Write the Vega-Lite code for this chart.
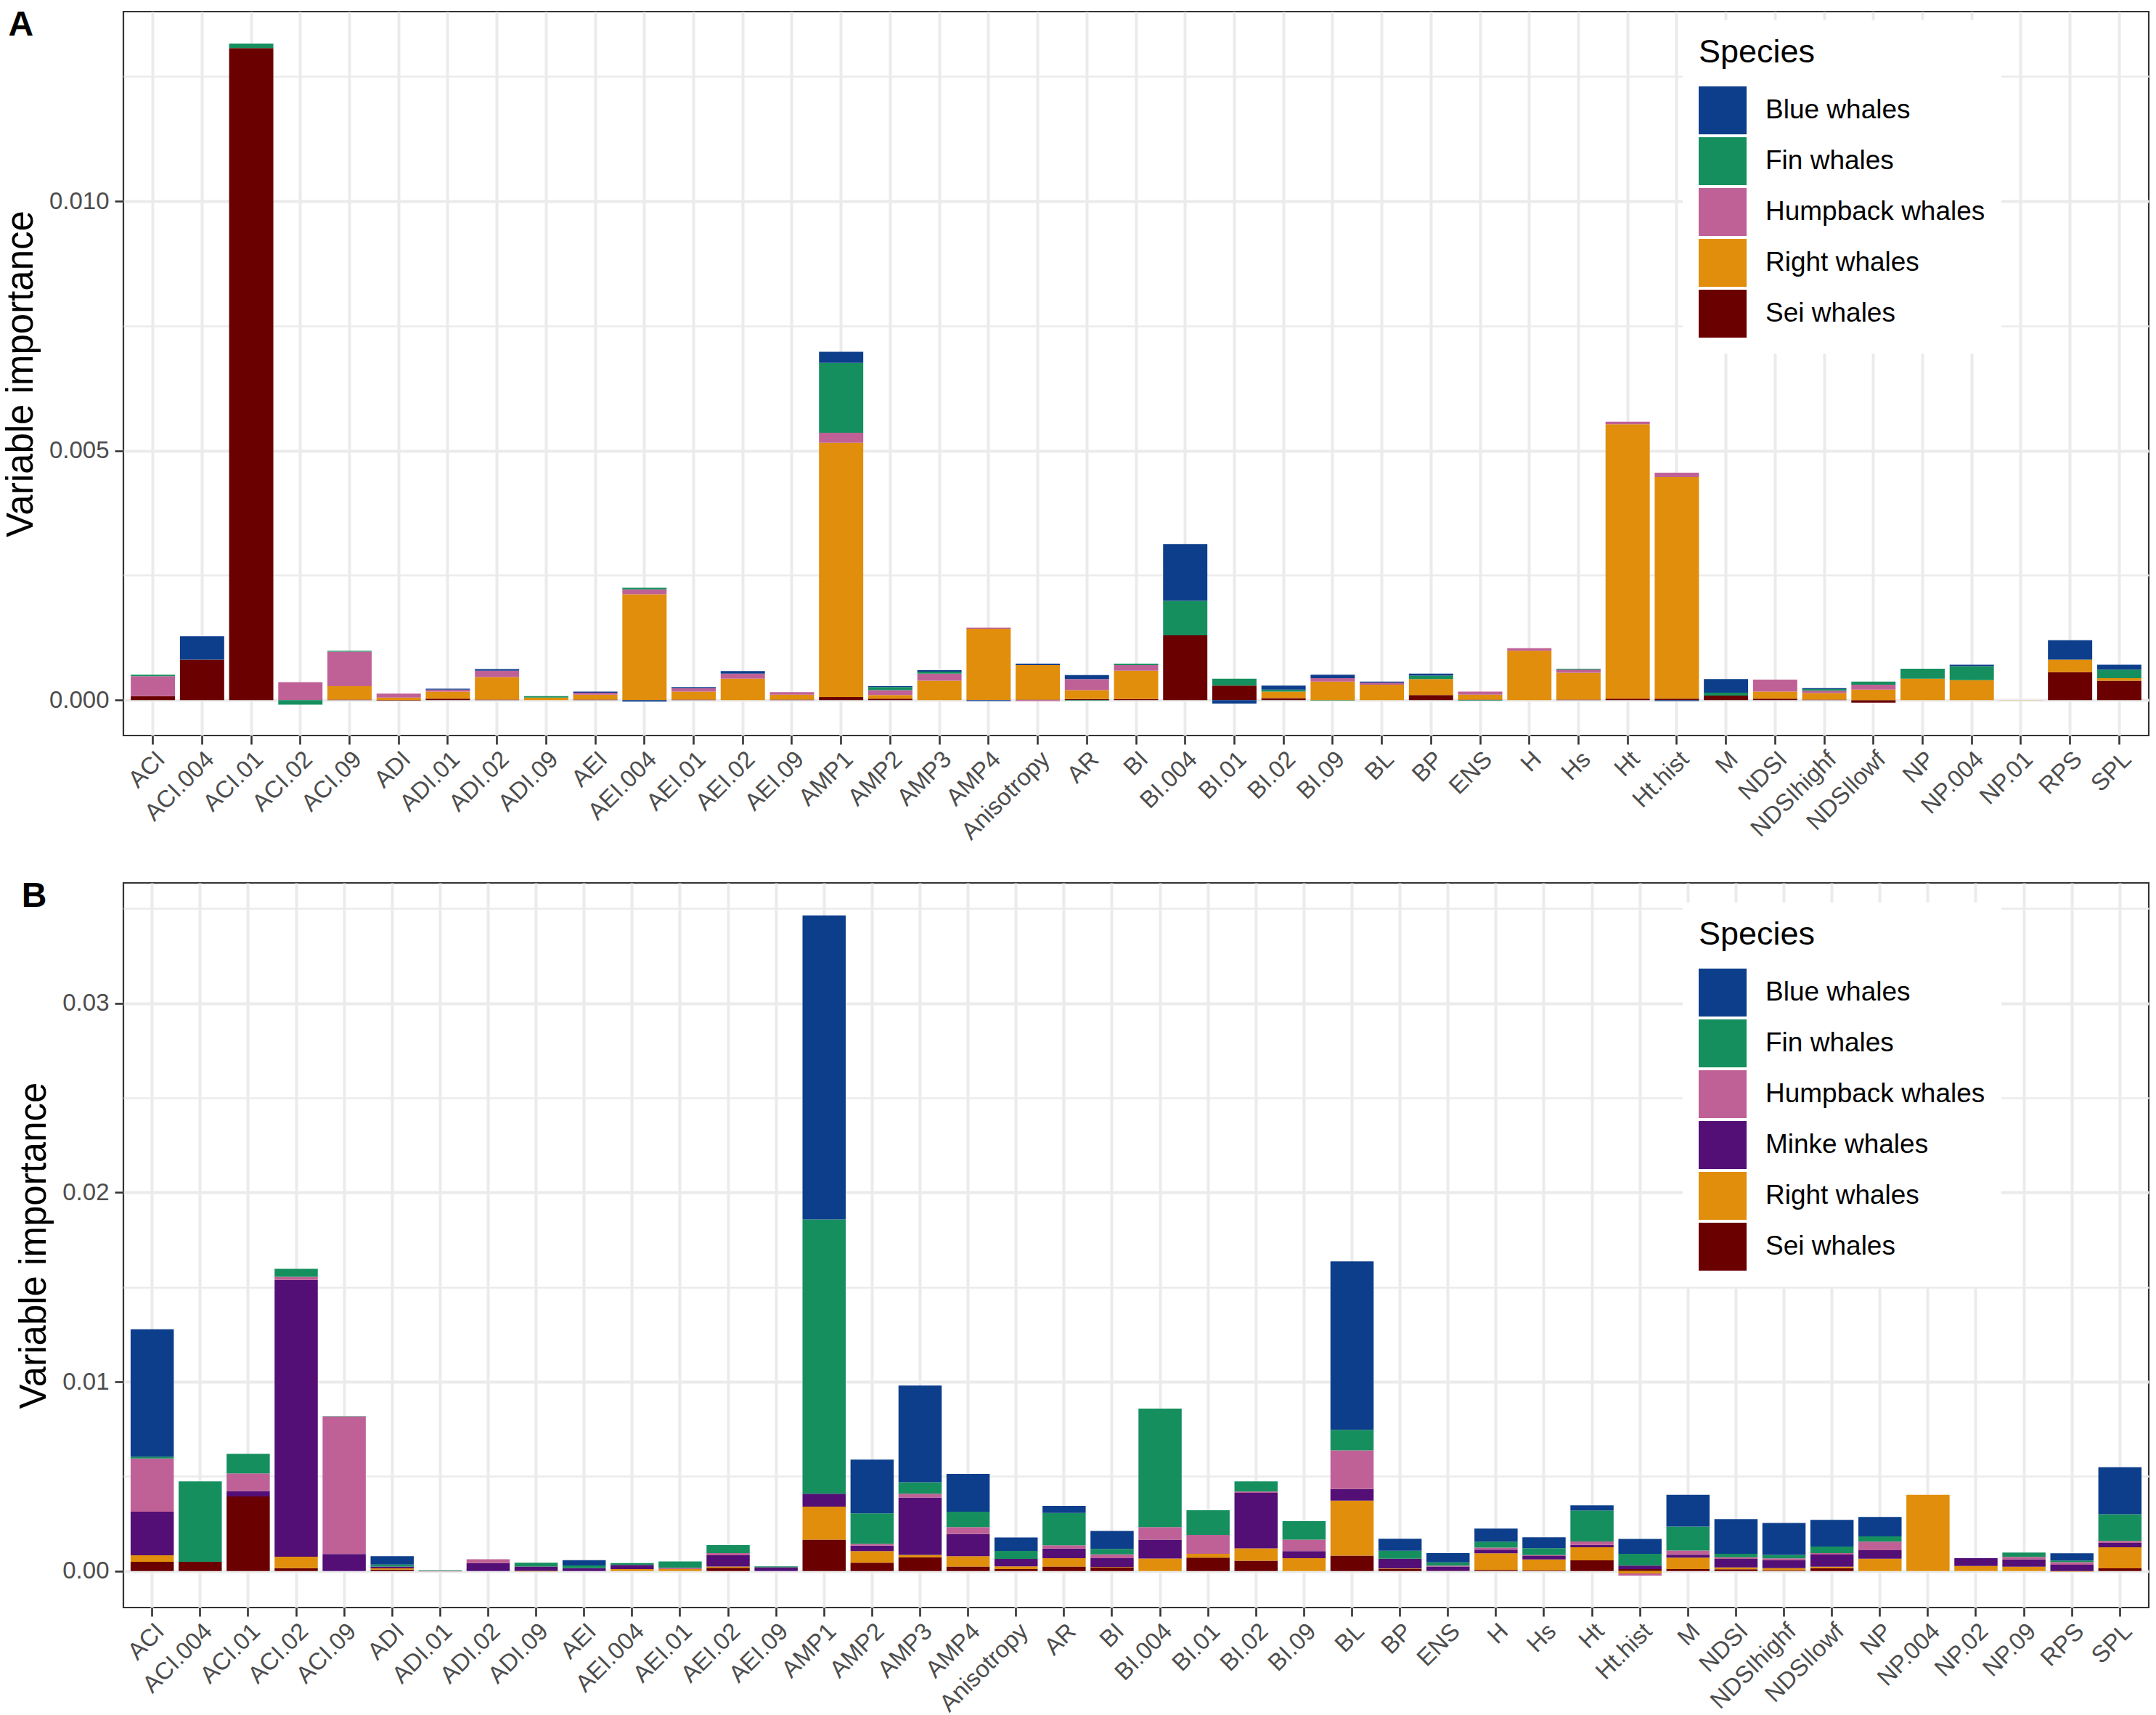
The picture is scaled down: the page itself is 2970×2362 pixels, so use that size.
{
  "$schema": "https://vega.github.io/schema/vega-lite/v6.json",
  "background": "white",
  "padding": {"left": 2, "top": 9, "right": 9, "bottom": 5},
  "spacing": 203,
  "bounds": "flush",
  "config": {
    "view": {"stroke": "#333333", "strokeWidth": 2.2},
    "font": "Liberation Sans",
    "axis": {"labelFont": "Liberation Sans", "titleFont": "Liberation Sans", "labelFontSize": 33, "labelColor": "#4D4D4D", "tickColor": "#333333", "tickWidth": 2.6, "tickSize": 12, "domain": false, "gridColor": "#EBEBEB", "gridWidth": 4, "titleFontWeight": "normal", "titleColor": "#000000", "labelOverlap": false},
    "legend": {"titleFont": "Liberation Sans", "labelFont": "Liberation Sans", "titleFontSize": 45, "titleFontWeight": "normal", "titleColor": "#000000", "labelFontSize": 37, "labelLimit": 0, "labelColor": "#000000", "symbolType": "square", "symbolSize": 4356, "symbolStrokeWidth": 0, "symbolOpacity": 1, "labelOffset": 26, "padding": 22, "rowPadding": 4, "titlePadding": 24, "fillColor": "white", "strokeColor": null},
    "title": {"font": "Liberation Sans", "fontSize": 48, "fontWeight": "bold", "color": "#000000", "anchor": "start", "frame": "bounds", "baseline": "alphabetic", "offset": -43, "dx": 8}
  },
  "resolve": {"scale": {"color": "independent", "x": "independent", "y": "independent"}, "legend": {"color": "independent"}},
  "vconcat": [
    {
      "title": {"text": "A"},
      "width": 2790,
      "height": 997,
      "data": {"values": [
        {"var":"ACI","sp":"Sei whales","v":0.00008},{"var":"ACI","sp":"Humpback whales","v":0.0004},{"var":"ACI","sp":"Fin whales","v":0.00003},
        {"var":"ACI.004","sp":"Sei whales","v":0.00081},{"var":"ACI.004","sp":"Blue whales","v":0.00047},
        {"var":"ACI.01","sp":"Sei whales","v":0.01307},{"var":"ACI.01","sp":"Fin whales","v":0.00009},
        {"var":"ACI.02","sp":"Humpback whales","v":0.00036},{"var":"ACI.02","sp":"Fin whales","v":-0.00009},
        {"var":"ACI.09","sp":"Sei whales","v":0.00001},{"var":"ACI.09","sp":"Right whales","v":0.00027},{"var":"ACI.09","sp":"Humpback whales","v":0.00069},{"var":"ACI.09","sp":"Fin whales","v":0.00002},
        {"var":"ADI","sp":"Sei whales","v":-0.00001},{"var":"ADI","sp":"Right whales","v":0.00005},{"var":"ADI","sp":"Humpback whales","v":0.00008},
        {"var":"ADI.01","sp":"Sei whales","v":0.00003},{"var":"ADI.01","sp":"Right whales","v":0.00014},{"var":"ADI.01","sp":"Humpback whales","v":0.00004},{"var":"ADI.01","sp":"Blue whales","v":0.00002},
        {"var":"ADI.02","sp":"Sei whales","v":0.00001},{"var":"ADI.02","sp":"Right whales","v":0.00045},{"var":"ADI.02","sp":"Humpback whales","v":0.00013},{"var":"ADI.02","sp":"Blue whales","v":0.00003},
        {"var":"ADI.09","sp":"Right whales","v":0.00005},{"var":"ADI.09","sp":"Fin whales","v":0.00003},
        {"var":"AEI","sp":"Sei whales","v":0.00001},{"var":"AEI","sp":"Right whales","v":0.0001},{"var":"AEI","sp":"Humpback whales","v":0.00004},{"var":"AEI","sp":"Blue whales","v":0.00002},
        {"var":"AEI.004","sp":"Right whales","v":0.00212},{"var":"AEI.004","sp":"Humpback whales","v":0.0001},{"var":"AEI.004","sp":"Fin whales","v":0.00003},{"var":"AEI.004","sp":"Blue whales","v":-0.00003},
        {"var":"AEI.01","sp":"Sei whales","v":0.00001},{"var":"AEI.01","sp":"Right whales","v":0.00016},{"var":"AEI.01","sp":"Humpback whales","v":0.00007},{"var":"AEI.01","sp":"Blue whales","v":0.00002},
        {"var":"AEI.02","sp":"Right whales","v":0.00043},{"var":"AEI.02","sp":"Humpback whales","v":0.0001},{"var":"AEI.02","sp":"Blue whales","v":0.00005},
        {"var":"AEI.09","sp":"Sei whales","v":0.00001},{"var":"AEI.09","sp":"Right whales","v":0.0001},{"var":"AEI.09","sp":"Humpback whales","v":0.00005},
        {"var":"AMP1","sp":"Sei whales","v":0.00006},{"var":"AMP1","sp":"Right whales","v":0.0051},{"var":"AMP1","sp":"Humpback whales","v":0.0002},{"var":"AMP1","sp":"Fin whales","v":0.0014},{"var":"AMP1","sp":"Blue whales","v":0.00022},
        {"var":"AMP2","sp":"Sei whales","v":0.00003},{"var":"AMP2","sp":"Right whales","v":0.00007},{"var":"AMP2","sp":"Humpback whales","v":0.0001},{"var":"AMP2","sp":"Fin whales","v":0.00006},{"var":"AMP2","sp":"Blue whales","v":0.00002},
        {"var":"AMP3","sp":"Right whales","v":0.00039},{"var":"AMP3","sp":"Humpback whales","v":0.00014},{"var":"AMP3","sp":"Fin whales","v":0.00004},{"var":"AMP3","sp":"Blue whales","v":0.00003},
        {"var":"AMP4","sp":"Right whales","v":0.00143},{"var":"AMP4","sp":"Humpback whales","v":0.00002},{"var":"AMP4","sp":"Blue whales","v":-0.00002},
        {"var":"Anisotropy","sp":"Sei whales","v":0.00001},{"var":"Anisotropy","sp":"Right whales","v":0.00069},{"var":"Anisotropy","sp":"Blue whales","v":0.00003},{"var":"Anisotropy","sp":"Humpback whales","v":-0.00002},
        {"var":"AR","sp":"Sei whales","v":0.00002},{"var":"AR","sp":"Right whales","v":0.00018},{"var":"AR","sp":"Humpback whales","v":0.00022},{"var":"AR","sp":"Blue whales","v":0.00008},{"var":"AR","sp":"Fin whales","v":-0.00001},
        {"var":"BI","sp":"Sei whales","v":0.00002},{"var":"BI","sp":"Right whales","v":0.00057},{"var":"BI","sp":"Humpback whales","v":0.00011},{"var":"BI","sp":"Fin whales","v":0.00003},
        {"var":"BI.004","sp":"Sei whales","v":0.0013},{"var":"BI.004","sp":"Fin whales","v":0.00069},{"var":"BI.004","sp":"Blue whales","v":0.00114},
        {"var":"BI.01","sp":"Sei whales","v":0.00029},{"var":"BI.01","sp":"Fin whales","v":0.00014},{"var":"BI.01","sp":"Blue whales","v":-0.00007},
        {"var":"BI.02","sp":"Sei whales","v":0.00004},{"var":"BI.02","sp":"Right whales","v":0.00013},{"var":"BI.02","sp":"Fin whales","v":0.00004},{"var":"BI.02","sp":"Blue whales","v":0.00008},
        {"var":"BI.09","sp":"Fin whales","v":-0.00001},{"var":"BI.09","sp":"Right whales","v":0.00037},{"var":"BI.09","sp":"Humpback whales","v":0.00007},{"var":"BI.09","sp":"Blue whales","v":0.00007},
        {"var":"BL","sp":"Right whales","v":0.00031},{"var":"BL","sp":"Humpback whales","v":0.00004},{"var":"BL","sp":"Blue whales","v":0.00002},
        {"var":"BP","sp":"Sei whales","v":0.0001},{"var":"BP","sp":"Right whales","v":0.00032},{"var":"BP","sp":"Fin whales","v":0.00007},{"var":"BP","sp":"Blue whales","v":0.00004},
        {"var":"ENS","sp":"Sei whales","v":0.00001},{"var":"ENS","sp":"Right whales","v":0.0001},{"var":"ENS","sp":"Humpback whales","v":0.00006},{"var":"ENS","sp":"Fin whales","v":-0.00001},
        {"var":"H","sp":"Right whales","v":0.00099},{"var":"H","sp":"Humpback whales","v":0.00005},
        {"var":"Hs","sp":"Sei whales","v":0.00001},{"var":"Hs","sp":"Right whales","v":0.00054},{"var":"Hs","sp":"Humpback whales","v":0.00006},{"var":"Hs","sp":"Fin whales","v":0.00002},
        {"var":"Ht","sp":"Sei whales","v":0.00003},{"var":"Ht","sp":"Right whales","v":0.0055},{"var":"Ht","sp":"Humpback whales","v":0.00005},
        {"var":"Ht.hist","sp":"Sei whales","v":0.00003},{"var":"Ht.hist","sp":"Right whales","v":0.00444},{"var":"Ht.hist","sp":"Humpback whales","v":0.00009},{"var":"Ht.hist","sp":"Blue whales","v":-0.00002},
        {"var":"M","sp":"Sei whales","v":0.00009},{"var":"M","sp":"Fin whales","v":0.00006},{"var":"M","sp":"Blue whales","v":0.00027},
        {"var":"NDSI","sp":"Sei whales","v":0.00003},{"var":"NDSI","sp":"Right whales","v":0.00014},{"var":"NDSI","sp":"Humpback whales","v":0.00024},
        {"var":"NDSIhighf","sp":"Sei whales","v":0.00001},{"var":"NDSIhighf","sp":"Right whales","v":0.00013},{"var":"NDSIhighf","sp":"Humpback whales","v":0.00005},{"var":"NDSIhighf","sp":"Fin whales","v":0.00003},{"var":"NDSIhighf","sp":"Blue whales","v":0.00002},
        {"var":"NDSIlowf","sp":"Sei whales","v":-0.00005},{"var":"NDSIlowf","sp":"Right whales","v":0.00021},{"var":"NDSIlowf","sp":"Humpback whales","v":0.0001},{"var":"NDSIlowf","sp":"Fin whales","v":0.00006},
        {"var":"NP","sp":"Right whales","v":0.00043},{"var":"NP","sp":"Fin whales","v":0.0002},
        {"var":"NP.004","sp":"Right whales","v":0.0004},{"var":"NP.004","sp":"Fin whales","v":0.00028},{"var":"NP.004","sp":"Blue whales","v":0.00003},
        {"var":"NP.01","sp":"Right whales","v":0.000004},
        {"var":"RPS","sp":"Sei whales","v":0.00056},{"var":"RPS","sp":"Right whales","v":0.00025},{"var":"RPS","sp":"Blue whales","v":0.00039},
        {"var":"SPL","sp":"Sei whales","v":0.00039},{"var":"SPL","sp":"Right whales","v":0.00005},{"var":"SPL","sp":"Fin whales","v":0.00017},{"var":"SPL","sp":"Blue whales","v":0.0001}
      ]},
      "mark": {"type": "bar"},
      "encoding": {
        "x": {"field": "var", "type": "nominal",
          "scale": {"domain": ["ACI","ACI.004","ACI.01","ACI.02","ACI.09","ADI","ADI.01","ADI.02","ADI.09","AEI","AEI.004","AEI.01","AEI.02","AEI.09","AMP1","AMP2","AMP3","AMP4","Anisotropy","AR","BI","BI.004","BI.01","BI.02","BI.09","BL","BP","ENS","H","Hs","Ht","Ht.hist","M","NDSI","NDSIhighf","NDSIlowf","NP","NP.004","NP.01","RPS","SPL"], "paddingInner": 0.1, "paddingOuter": 0.15},
          "axis": {"title": null, "labelAngle": -45, "labelAlign": "right", "labelBaseline": "top", "labelPadding": 4, "bandPosition": 0.5, "grid": true}},
        "y": {"field": "v", "type": "quantitative", "stack": "zero",
          "scale": {"domain": [-0.00071, 0.0138], "nice": false, "zero": false},
          "axis": {"title": "Variable importance", "titleFontSize": 51, "titlePadding": 12, "labelPadding": 8,
            "values": [0, 0.0025, 0.005, 0.0075, 0.01, 0.0125], "format": ".3f",
            "labelExpr": "round(datum.value*2000) % 10 == 0 ? datum.label : ''",
            "tickOpacity": {"condition": {"test": "round(datum.value*2000) % 10 != 0", "value": 0}, "value": 1},
            "gridWidth": {"condition": {"test": "round(datum.value*2000) % 10 != 0", "value": 2.5}, "value": 4}}},
        "color": {"field": "sp", "type": "nominal",
          "scale": {"domain": ["Blue whales","Fin whales","Humpback whales","Right whales","Sei whales"], "range": ["#0D3E8B","#168F5F","#BF6196","#E08E0B","#6A0000"]},
          "legend": {"title": "Species", "orient": "none", "legendX": 2148, "legendY": 12}},
        "order": {"field": "sp", "sort": "descending"}
      }
    },
    {
      "title": {"text": "B"},
      "width": 2790,
      "height": 998,
      "data": {"values": [
        {"var":"ACI","sp":"Sei whales","v":0.00049},{"var":"ACI","sp":"Right whales","v":0.00034},{"var":"ACI","sp":"Minke whales","v":0.0023},{"var":"ACI","sp":"Humpback whales","v":0.00281},{"var":"ACI","sp":"Fin whales","v":0.0001},{"var":"ACI","sp":"Blue whales","v":0.00673},
        {"var":"ACI.004","sp":"Sei whales","v":0.00049},{"var":"ACI.004","sp":"Fin whales","v":0.00425},
        {"var":"ACI.01","sp":"Sei whales","v":0.00394},{"var":"ACI.01","sp":"Minke whales","v":0.00029},{"var":"ACI.01","sp":"Humpback whales","v":0.00093},{"var":"ACI.01","sp":"Fin whales","v":0.00103},
        {"var":"ACI.02","sp":"Sei whales","v":0.00015},{"var":"ACI.02","sp":"Right whales","v":0.00061},{"var":"ACI.02","sp":"Minke whales","v":0.01462},{"var":"ACI.02","sp":"Humpback whales","v":0.00017},{"var":"ACI.02","sp":"Fin whales","v":0.00042},
        {"var":"ACI.09","sp":"Minke whales","v":0.0009},{"var":"ACI.09","sp":"Humpback whales","v":0.00726},{"var":"ACI.09","sp":"Fin whales","v":0.00002},
        {"var":"ADI","sp":"Sei whales","v":0.00007},{"var":"ADI","sp":"Right whales","v":0.00007},{"var":"ADI","sp":"Minke whales","v":0.0001},{"var":"ADI","sp":"Fin whales","v":0.0001},{"var":"ADI","sp":"Blue whales","v":0.00044},
        {"var":"ADI.01","sp":"Fin whales","v":0.00004},{"var":"ADI.01","sp":"Humpback whales","v":-0.00002},
        {"var":"ADI.02","sp":"Minke whales","v":0.00042},{"var":"ADI.02","sp":"Humpback whales","v":0.0002},
        {"var":"ADI.09","sp":"Minke whales","v":0.00024},{"var":"ADI.09","sp":"Fin whales","v":0.0002},{"var":"ADI.09","sp":"Right whales","v":-0.00002},
        {"var":"AEI","sp":"Minke whales","v":0.00015},{"var":"AEI","sp":"Fin whales","v":0.00015},{"var":"AEI","sp":"Blue whales","v":0.00027},
        {"var":"AEI.004","sp":"Right whales","v":0.0001},{"var":"AEI.004","sp":"Minke whales","v":0.00022},{"var":"AEI.004","sp":"Fin whales","v":0.0001},
        {"var":"AEI.01","sp":"Right whales","v":0.0001},{"var":"AEI.01","sp":"Humpback whales","v":0.00007},{"var":"AEI.01","sp":"Fin whales","v":0.00034},
        {"var":"AEI.02","sp":"Sei whales","v":0.00017},{"var":"AEI.02","sp":"Right whales","v":0.00007},{"var":"AEI.02","sp":"Minke whales","v":0.00059},{"var":"AEI.02","sp":"Humpback whales","v":0.00012},{"var":"AEI.02","sp":"Fin whales","v":0.00042},
        {"var":"AEI.09","sp":"Minke whales","v":0.0002},{"var":"AEI.09","sp":"Fin whales","v":0.00005},
        {"var":"AMP1","sp":"Sei whales","v":0.00166},{"var":"AMP1","sp":"Right whales","v":0.00174},{"var":"AMP1","sp":"Minke whales","v":0.00068},{"var":"AMP1","sp":"Fin whales","v":0.0145},{"var":"AMP1","sp":"Blue whales","v":0.01606},
        {"var":"AMP2","sp":"Sei whales","v":0.00044},{"var":"AMP2","sp":"Right whales","v":0.00061},{"var":"AMP2","sp":"Minke whales","v":0.00029},{"var":"AMP2","sp":"Humpback whales","v":0.0001},{"var":"AMP2","sp":"Fin whales","v":0.00161},{"var":"AMP2","sp":"Blue whales","v":0.00284},
        {"var":"AMP3","sp":"Sei whales","v":0.00073},{"var":"AMP3","sp":"Right whales","v":0.00012},{"var":"AMP3","sp":"Minke whales","v":0.00303},{"var":"AMP3","sp":"Humpback whales","v":0.0002},{"var":"AMP3","sp":"Fin whales","v":0.00061},{"var":"AMP3","sp":"Blue whales","v":0.00511},
        {"var":"AMP4","sp":"Sei whales","v":0.00024},{"var":"AMP4","sp":"Right whales","v":0.00054},{"var":"AMP4","sp":"Minke whales","v":0.00117},{"var":"AMP4","sp":"Humpback whales","v":0.00037},{"var":"AMP4","sp":"Fin whales","v":0.00081},{"var":"AMP4","sp":"Blue whales","v":0.002},
        {"var":"Anisotropy","sp":"Sei whales","v":0.0001},{"var":"Anisotropy","sp":"Right whales","v":0.00015},{"var":"Anisotropy","sp":"Minke whales","v":0.00039},{"var":"Anisotropy","sp":"Fin whales","v":0.00042},{"var":"Anisotropy","sp":"Blue whales","v":0.00071},
        {"var":"AR","sp":"Sei whales","v":0.00024},{"var":"AR","sp":"Right whales","v":0.00044},{"var":"AR","sp":"Minke whales","v":0.00051},{"var":"AR","sp":"Humpback whales","v":0.00017},{"var":"AR","sp":"Fin whales","v":0.00171},{"var":"AR","sp":"Blue whales","v":0.00037},
        {"var":"BI","sp":"Sei whales","v":0.0002},{"var":"BI","sp":"Right whales","v":0.00002},{"var":"BI","sp":"Minke whales","v":0.00046},{"var":"BI","sp":"Humpback whales","v":0.0002},{"var":"BI","sp":"Fin whales","v":0.00029},{"var":"BI","sp":"Blue whales","v":0.00095},
        {"var":"BI.004","sp":"Right whales","v":0.00066},{"var":"BI.004","sp":"Minke whales","v":0.001},{"var":"BI.004","sp":"Humpback whales","v":0.00066},{"var":"BI.004","sp":"Fin whales","v":0.00626},
        {"var":"BI.01","sp":"Sei whales","v":0.00071},{"var":"BI.01","sp":"Right whales","v":0.0002},{"var":"BI.01","sp":"Humpback whales","v":0.001},{"var":"BI.01","sp":"Fin whales","v":0.0013},
        {"var":"BI.02","sp":"Sei whales","v":0.00054},{"var":"BI.02","sp":"Right whales","v":0.00066},{"var":"BI.02","sp":"Minke whales","v":0.00293},{"var":"BI.02","sp":"Humpback whales","v":0.00007},{"var":"BI.02","sp":"Fin whales","v":0.00054},
        {"var":"BI.09","sp":"Right whales","v":0.00068},{"var":"BI.09","sp":"Minke whales","v":0.00037},{"var":"BI.09","sp":"Humpback whales","v":0.00061},{"var":"BI.09","sp":"Fin whales","v":0.00098},
        {"var":"BL","sp":"Sei whales","v":0.00081},{"var":"BL","sp":"Right whales","v":0.00291},{"var":"BL","sp":"Minke whales","v":0.00061},{"var":"BL","sp":"Humpback whales","v":0.00205},{"var":"BL","sp":"Fin whales","v":0.00108},{"var":"BL","sp":"Blue whales","v":0.0089},
        {"var":"BP","sp":"Sei whales","v":0.00012},{"var":"BP","sp":"Right whales","v":0.00002},{"var":"BP","sp":"Minke whales","v":0.00051},{"var":"BP","sp":"Fin whales","v":0.00042},{"var":"BP","sp":"Blue whales","v":0.00064},
        {"var":"ENS","sp":"Sei whales","v":0.00002},{"var":"ENS","sp":"Minke whales","v":0.00022},{"var":"ENS","sp":"Humpback whales","v":0.00005},{"var":"ENS","sp":"Fin whales","v":0.00017},{"var":"ENS","sp":"Blue whales","v":0.00049},
        {"var":"H","sp":"Sei whales","v":0.00006},{"var":"H","sp":"Right whales","v":0.00088},{"var":"H","sp":"Minke whales","v":0.00019},{"var":"H","sp":"Humpback whales","v":0.00011},{"var":"H","sp":"Fin whales","v":0.00031},{"var":"H","sp":"Blue whales","v":0.00069},
        {"var":"Hs","sp":"Sei whales","v":0.00004},{"var":"Hs","sp":"Right whales","v":0.00057},{"var":"Hs","sp":"Minke whales","v":0.00018},{"var":"Hs","sp":"Humpback whales","v":0.00005},{"var":"Hs","sp":"Fin whales","v":0.00037},{"var":"Hs","sp":"Blue whales","v":0.00057},
        {"var":"Ht","sp":"Sei whales","v":0.00056},{"var":"Ht","sp":"Right whales","v":0.00069},{"var":"Ht","sp":"Minke whales","v":0.00013},{"var":"Ht","sp":"Humpback whales","v":0.00018},{"var":"Ht","sp":"Fin whales","v":0.00164},{"var":"Ht","sp":"Blue whales","v":0.00027},
        {"var":"Ht.hist","sp":"Sei whales","v":0.0001},{"var":"Ht.hist","sp":"Minke whales","v":0.00019},{"var":"Ht.hist","sp":"Fin whales","v":0.00062},{"var":"Ht.hist","sp":"Blue whales","v":0.00079},{"var":"Ht.hist","sp":"Right whales","v":-0.00013},{"var":"Ht.hist","sp":"Humpback whales","v":-0.00011},
        {"var":"M","sp":"Sei whales","v":0.0001},{"var":"M","sp":"Right whales","v":0.00061},{"var":"M","sp":"Minke whales","v":0.00015},{"var":"M","sp":"Humpback whales","v":0.00022},{"var":"M","sp":"Fin whales","v":0.00127},{"var":"M","sp":"Blue whales","v":0.00168},
        {"var":"NDSI","sp":"Sei whales","v":0.00009},{"var":"NDSI","sp":"Right whales","v":0.0001},{"var":"NDSI","sp":"Minke whales","v":0.00045},{"var":"NDSI","sp":"Humpback whales","v":0.00009},{"var":"NDSI","sp":"Fin whales","v":0.00018},{"var":"NDSI","sp":"Blue whales","v":0.00183},
        {"var":"NDSIhighf","sp":"Sei whales","v":0.00004},{"var":"NDSIhighf","sp":"Right whales","v":0.00011},{"var":"NDSIhighf","sp":"Minke whales","v":0.00041},{"var":"NDSIhighf","sp":"Humpback whales","v":0.00011},{"var":"NDSIhighf","sp":"Fin whales","v":0.00018},{"var":"NDSIhighf","sp":"Blue whales","v":0.00169},
        {"var":"NDSIlowf","sp":"Sei whales","v":0.00015},{"var":"NDSIlowf","sp":"Right whales","v":0.00008},{"var":"NDSIlowf","sp":"Minke whales","v":0.00064},{"var":"NDSIlowf","sp":"Humpback whales","v":0.00008},{"var":"NDSIlowf","sp":"Fin whales","v":0.00034},{"var":"NDSIlowf","sp":"Blue whales","v":0.00141},
        {"var":"NP","sp":"Right whales","v":0.00065},{"var":"NP","sp":"Minke whales","v":0.00045},{"var":"NP","sp":"Humpback whales","v":0.00045},{"var":"NP","sp":"Fin whales","v":0.00028},{"var":"NP","sp":"Blue whales","v":0.00103},
        {"var":"NP.004","sp":"Right whales","v":0.00403},
        {"var":"NP.02","sp":"Right whales","v":0.00027},{"var":"NP.02","sp":"Minke whales","v":0.00041},
        {"var":"NP.09","sp":"Right whales","v":0.00023},{"var":"NP.09","sp":"Minke whales","v":0.00038},{"var":"NP.09","sp":"Humpback whales","v":0.00014},{"var":"NP.09","sp":"Fin whales","v":0.00023},
        {"var":"RPS","sp":"Right whales","v":-0.00003},{"var":"RPS","sp":"Minke whales","v":0.00033},{"var":"RPS","sp":"Humpback whales","v":0.00014},{"var":"RPS","sp":"Fin whales","v":0.00008},{"var":"RPS","sp":"Blue whales","v":0.00039},
        {"var":"SPL","sp":"Sei whales","v":0.00014},{"var":"SPL","sp":"Right whales","v":0.00111},{"var":"SPL","sp":"Minke whales","v":0.00023},{"var":"SPL","sp":"Humpback whales","v":0.00011},{"var":"SPL","sp":"Fin whales","v":0.00141},{"var":"SPL","sp":"Blue whales","v":0.00248}
      ]},
      "mark": {"type": "bar"},
      "encoding": {
        "x": {"field": "var", "type": "nominal",
          "scale": {"domain": ["ACI","ACI.004","ACI.01","ACI.02","ACI.09","ADI","ADI.01","ADI.02","ADI.09","AEI","AEI.004","AEI.01","AEI.02","AEI.09","AMP1","AMP2","AMP3","AMP4","Anisotropy","AR","BI","BI.004","BI.01","BI.02","BI.09","BL","BP","ENS","H","Hs","Ht","Ht.hist","M","NDSI","NDSIhighf","NDSIlowf","NP","NP.004","NP.02","NP.09","RPS","SPL"], "paddingInner": 0.1, "paddingOuter": 0.15},
          "axis": {"title": null, "labelAngle": -45, "labelAlign": "right", "labelBaseline": "top", "labelPadding": 4, "bandPosition": 0.5, "grid": true}},
        "y": {"field": "v", "type": "quantitative", "stack": "zero",
          "scale": {"domain": [-0.00193, 0.03636], "nice": false, "zero": false},
          "axis": {"title": "Variable importance", "titleFontSize": 51, "titlePadding": 12, "labelPadding": 8,
            "values": [0, 0.005, 0.01, 0.015, 0.02, 0.025, 0.03, 0.035], "format": ".2f",
            "labelExpr": "round(datum.value*200) % 2 == 0 ? datum.label : ''",
            "tickOpacity": {"condition": {"test": "round(datum.value*200) % 2 != 0", "value": 0}, "value": 1},
            "gridWidth": {"condition": {"test": "round(datum.value*200) % 2 != 0", "value": 2.5}, "value": 4}}},
        "color": {"field": "sp", "type": "nominal",
          "scale": {"domain": ["Blue whales","Fin whales","Humpback whales","Minke whales","Right whales","Sei whales"], "range": ["#0D3E8B","#168F5F","#BF6196","#530F76","#E08E0B","#6A0000"]},
          "legend": {"title": "Species", "orient": "none", "legendX": 2148, "legendY": 27}},
        "order": {"field": "sp", "sort": "descending"}
      }
    }
  ]
}
